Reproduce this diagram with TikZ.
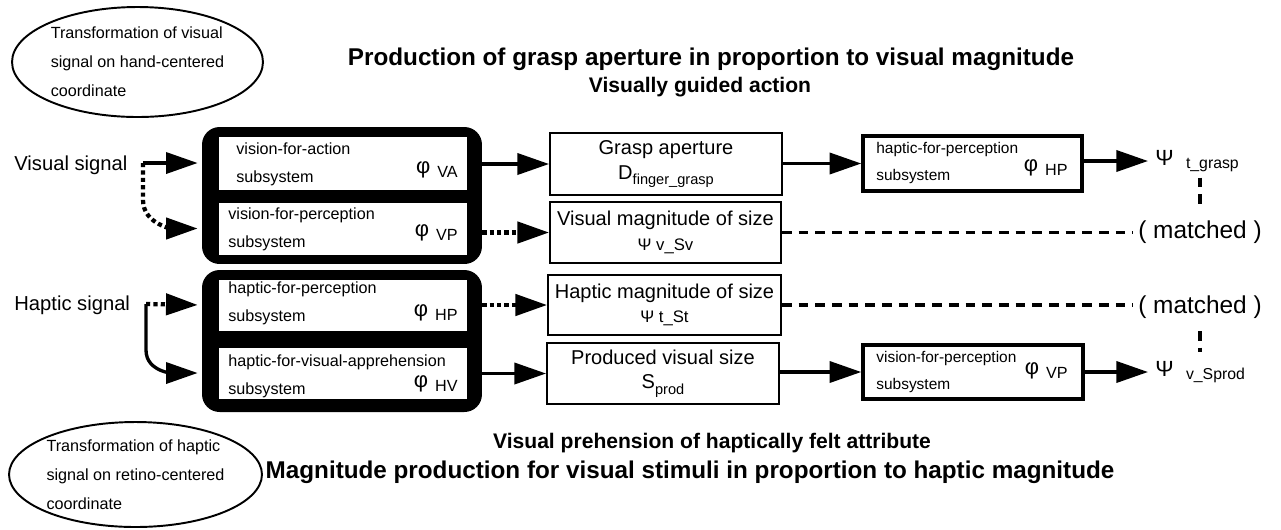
\documentclass[tikz,border=0pt]{standalone}
\usepackage{fontspec}
\setmainfont{Liberation Sans}
\usetikzlibrary{arrows.meta,shapes.geometric}

\newcommand\phisub[1]{{\fontsize{12.5}{12}\selectfont φ}\hspace{4pt}\raisebox{-2pt}{\fontsize{9.2}{9}\selectfont #1}}
\newcommand\psisub[1]{{\fontsize{12.5}{12}\selectfont Ψ}\hspace{7pt}\raisebox{-2pt}{\fontsize{9}{9}\selectfont #1}}

\begin{document}
\begin{tikzpicture}[x=0.02cm,y=-0.02cm,
	every node/.style={inner sep=0pt},
	bubble/.style={shape=ellipse, draw, line width=1.1pt, align=left,
		font=\fontsize{9.2}{16.4}\selectfont},
	blackbox/.style={fill=black, rounded corners=10pt},
	subbox/.style={draw, fill=white, line width=0.5pt},
	midbox/.style={draw, line width=1.1pt, align=center, font=\fontsize{11.4}{14}\selectfont},
	sidebox/.style={draw, line width=2pt},
	small/.style={align=left, font=\fontsize{9.2}{15.9}\selectfont},
	sidetext/.style={align=left, font=\fontsize{8.8}{15.9}\selectfont},
	title/.style={font=\bfseries\fontsize{13.8}{16}\selectfont},
	subtitle/.style={font=\bfseries\fontsize{12}{14}\selectfont},
	signal/.style={font=\fontsize{11.5}{13}\selectfont},
	match/.style={font=\fontsize{13.9}{15}\selectfont},
	arr/.style={-{Triangle[length=18pt,width=12pt]}, line width=1.9pt},
	dotarr/.style={arr, line width=2.4pt, dash pattern=on 2.4pt off 1.8pt},
	dashline/.style={line width=2.2pt, dash pattern=on 5.5pt off 4pt}]

	\useasboundingbox (0,0) rectangle (1281,529);

	% ellipses and titles
	\node[bubble, minimum width=5.02cm, minimum height=2.2cm] (ell1) at (137.5,62)
		{Transformation of visual\\signal on hand-centered\\coordinate};
	\node[bubble, minimum width=5.06cm, minimum height=2.1cm] (ell2) at (135.5,474.5)
		{Transformation of haptic\\signal on retino-centered\\coordinate};
	\node[title] (t1) at (711,59) {Production of grasp aperture in proportion to visual magnitude};
	\node[subtitle] (t2) at (700,87) {Visually guided action};
	\node[subtitle] (t3) at (712,443) {Visual prehension of haptically felt attribute};
	\node[title] (t4) at (690,472) {Magnitude production for visual stimuli in proportion to haptic magnitude};

	% input signals
	\node[signal, anchor=west] (vsig) at (14,165) {Visual signal};
	\node[signal, anchor=west] (hsig) at (14,305) {Haptic signal};

	% subsystem blocks
	\node[blackbox, minimum width=5.6cm, minimum height=2.74cm] (vbox) at (342,195.5) {};
	\node[subbox, minimum width=4.98cm, minimum height=1.08cm] (va) at (342.5,163) {};
	\node[subbox, minimum width=4.98cm, minimum height=1.06cm] (vp) at (342.5,228.5) {};
	\node[blackbox, minimum width=5.6cm, minimum height=2.84cm] (hbox) at (342,341) {};
	\node[subbox, minimum width=4.98cm, minimum height=1.04cm] (hp) at (342.5,305) {};
	\node[subbox, minimum width=4.98cm, minimum height=1.04cm] (hv) at (342.5,373) {};

	\node[small, anchor=west] (vatext) at (236,164) {vision-for-action\\subsystem};
	\node[small, anchor=west] (vptext) at (228,229) {vision-for-perception\\subsystem};
	\node[small, anchor=west] (hptext) at (228,303) {haptic-for-perception\\subsystem};
	\node[small, anchor=west] (hvtext) at (228,376) {haptic-for-visual-apprehension\\subsystem};
	\node[anchor=east] (vaphi) at (458,170) {\phisub{VA}};
	\node[anchor=east] (vpphi) at (458,233) {\phisub{VP}};
	\node[anchor=east] (hpphi) at (458,313) {\phisub{HP}};
	\node[anchor=east] (hvphi) at (458,384) {\phisub{HV}};

	% magnitudes
	\node[midbox, minimum width=4.64cm, minimum height=1.24cm] (grasp) at (666,164)
		{Grasp aperture\\D\raisebox{-3pt}{\fontsize{8.3}{9}\selectfont finger\_grasp}};
	\node[midbox, minimum width=4.62cm, minimum height=1.22cm] (vmag) at (665.5,232.5)
		{Visual magnitude of size\\{\fontsize{9.5}{10}\selectfont Ψ v\_Sv}};
	\node[midbox, minimum width=4.66cm, minimum height=1.2cm] (hmag) at (664.5,305)
		{Haptic magnitude of size\\{\fontsize{9.5}{10}\selectfont Ψ t\_St}};
	\node[midbox, minimum width=4.64cm, minimum height=1.22cm] (prod) at (663,373.5)
		{Produced visual size\\S\raisebox{-3pt}{\fontsize{8.3}{9}\selectfont prod}};

	% second stage
	\node[sidebox, minimum width=4.38cm, minimum height=1.1cm] (hpr) at (972.5,163.5) {};
	\node[sidetext, anchor=west] (hprtext) at (876,163) {haptic-for-perception\\subsystem};
	\node[anchor=east] (hprphi) at (1068,168) {\phisub{HP}};
	\node[sidebox, minimum width=4.4cm, minimum height=1.08cm] (vpr) at (973,372) {};
	\node[sidetext, anchor=west] (vprtext) at (876,372) {vision-for-perception\\subsystem};
	\node[anchor=east] (vprphi) at (1068,371) {\phisub{VP}};

	\node[anchor=west, inner xsep=4pt] (psitg) at (1148,161) {\psisub{t\_grasp}};
	\node[anchor=west, inner xsep=4pt] (psivs) at (1148,372) {\psisub{v\_Sprod}};
	\node[match] (m1) at (1200,232) {( matched )};
	\node[match] (m2) at (1200,307) {( matched )};

	% connectors
	\coordinate (vfork) at (143,163);
	\coordinate (hfork) at (146,304);
	\draw[arr, shorten >=2.3pt] (vfork) -- (vbox.west |- va.west);
	\draw[dotarr, shorten >=2.3pt] (vfork) -- ++(0,37) to[out=-90,in=180] (vbox.west |- vp.west);
	\draw[dotarr, shorten >=2.3pt] (hfork) -- (hbox.west |- hp.west);
	\draw[arr, shorten >=2.3pt] (hfork) -- ++(0,46) to[out=-90,in=180] (hbox.west |- hv.west);

	\draw[arr] (vbox.east |- grasp.west) -- (grasp.west);
	\draw[dotarr] (vbox.east |- vmag.west) -- (vmag.west);
	\draw[dotarr] (hbox.east |- hmag.west) -- (hmag.west);
	\draw[arr] (hbox.east |- prod.west) -- (prod.west);
	\draw[arr] (grasp.east |- hpr.west) -- (hpr.west);
	\draw[arr] (prod.east |- vpr.west) -- (vpr.west);
	\draw[arr] (hpr.east |- psitg.west) -- (psitg.west);
	\draw[arr] (vpr.east |- psivs.west) -- (psivs.west);

	\draw[dashline, shorten >=3pt] (vmag.east) -- (vmag.east -| m1.west);
	\draw[dashline, shorten >=3pt] (hmag.east) -- (hmag.east -| m2.west);
	\draw[dashline, shorten <=3pt, shorten >=8pt] (m1.north |- psitg.south) -- (m1.north);
	\draw[dashline, shorten <=7pt, shorten >=5pt] (m2.south) -- (m2.south |- psivs.north);
\end{tikzpicture}
\end{document}
